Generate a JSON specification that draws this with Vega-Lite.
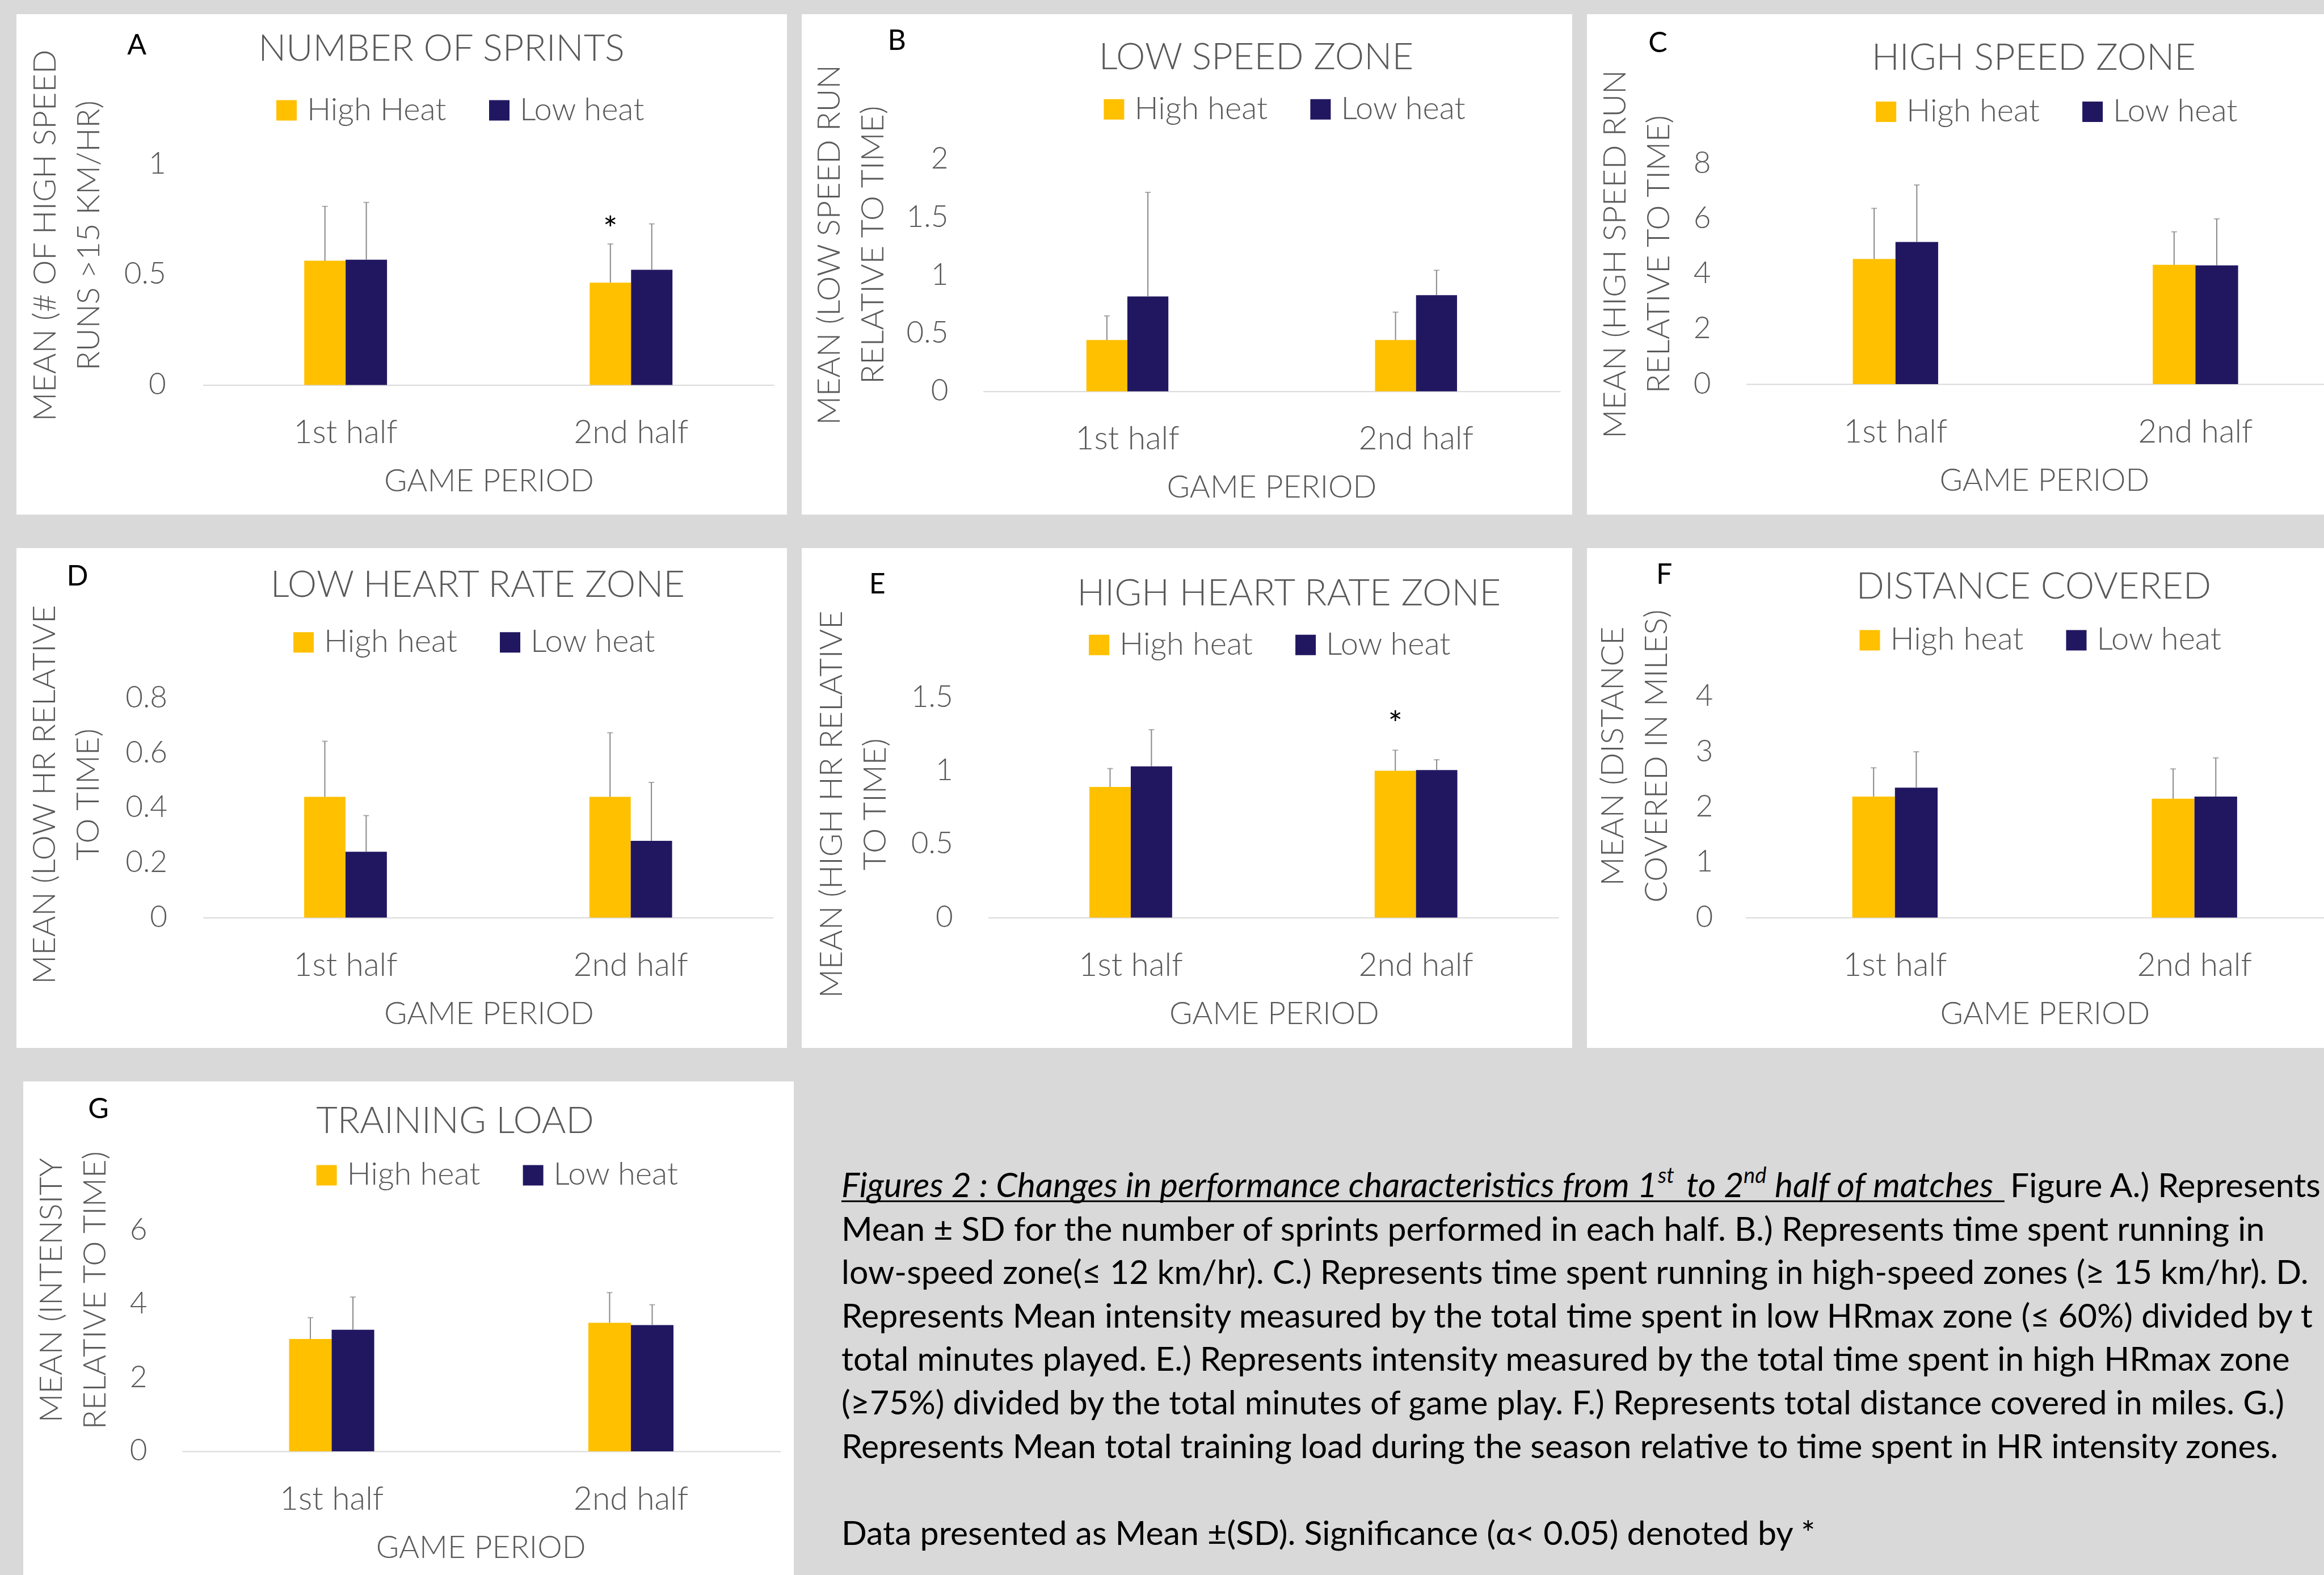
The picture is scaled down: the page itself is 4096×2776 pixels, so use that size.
{
"$schema": "https://vega.github.io/schema/vega-lite/v6.json",
"background": "#d9d9d9",
"padding": {"left": 29, "top": 25, "right": 0, "bottom": 0},
"spacing": 59,
"config": {
 "font": "Lato",
 "view": {"stroke": null},
 "axis": {"grid": false, "ticks": false, "tickSize": 0, "labelColor": "#595959", "titleColor": "#595959", "labelFontWeight": 300, "titleFontWeight": 300, "labelLimit": 1000, "titleLimit": 3000, "labelFontSize": 53, "titleFontSize": 56},
 "axisX": {"labelFontSize": 57, "titleFontSize": 55, "domain": true, "domainColor": "#d9d9d9", "domainWidth": 2, "labelPadding": 57, "labelAngle": 0, "titleBaseline": "middle"},
 "axisY": {"domain": false, "labelPadding": 0, "titleAngle": -90, "titleBaseline": "top", "titleAlign": "center", "titleLineHeight": 77},
 "legend": {"symbolType": "square", "symbolSize": 1296, "symbolStrokeWidth": 0, "labelFontSize": 56, "labelColor": "#595959", "labelFontWeight": 300, "labelLimit": 1000, "labelOffset": 8, "columnPadding": 65, "padding": 0, "rowPadding": 0}
},
"resolve": {"scale": {"color": "independent", "xOffset": "independent"}, "legend": {"color": "independent"}},
"vconcat": [
 {"hconcat": [
  {"width": 1358, "height": 882, "view": {"fill": "#ffffff", "stroke": null},
   "data": {"values": [
    {"period": "1st half", "group": "High heat", "mean": 0.562, "upper": 0.808},
    {"period": "1st half", "group": "Low heat", "mean": 0.567, "upper": 0.826},
    {"period": "2nd half", "group": "High heat", "mean": 0.463, "upper": 0.638},
    {"period": "2nd half", "group": "Low heat", "mean": 0.521, "upper": 0.729}]},
   "layer": [
    {"mark": {"type": "bar"},
     "encoding": {
      "x": {"field": "period", "type": "nominal", "scale": {"range": [328.6, 1334.8], "paddingInner": 0.71, "paddingOuter": 0.355}, "axis": {"title": "GAME PERIOD", "offset": -228.5, "titleX": 832.5, "titleY": 170}},
      "xOffset": {"field": "group", "type": "nominal", "scale": {"domain": ["High heat", "Low heat"]}},
      "y": {"field": "mean", "type": "quantitative", "scale": {"domain": [-0.5866, 1.6778], "nice": false, "zero": false}, "axis": {"values": [0, 0.5, 1], "format": "~g", "offset": -263.2, "title": ["MEAN (# OF HIGH SPEED", "RUNS >15 KM/HR)"], "titleX": -238.6, "titleY": 389.5}},
      "y2": {"datum": 0},
      "color": {"field": "group", "type": "nominal", "scale": {"domain": ["High heat", "Low heat"], "range": ["#ffc000", "#211761"]}, "legend": {"title": null, "orient": "none", "direction": "horizontal", "legendX": 448, "legendY": 141.6, "labelExpr": "datum.label == 'High heat' ? 'High Heat' : datum.label"}}}},
    {"mark": {"type": "rule", "color": "#898989", "strokeWidth": 2},
     "encoding": {
      "x": {"field": "period", "type": "nominal"},
      "xOffset": {"field": "group", "type": "nominal"},
      "y": {"field": "mean", "type": "quantitative"},
      "y2": {"field": "upper"}}},
    {"mark": {"type": "tick", "color": "#898989", "thickness": 2, "size": 10, "orient": "horizontal"},
     "encoding": {
      "x": {"field": "period", "type": "nominal"},
      "xOffset": {"field": "group", "type": "nominal"},
      "y": {"field": "upper", "type": "quantitative"}}},
    {"data": {"values": [{"period": "2nd half", "group": "High heat", "level": 0.742, "sym": "*"}]},
     "mark": {"type": "text", "fontSize": 60, "color": "#000000", "baseline": "middle", "dy": 17},
     "encoding": {
      "x": {"field": "period", "type": "nominal"},
      "xOffset": {"field": "group", "type": "nominal"},
      "y": {"field": "level", "type": "quantitative"},
      "text": {"field": "sym"}}},
    {"data": {"values": [{"label": "A"}]},
     "mark": {"type": "text", "fontSize": 50, "color": "#000000", "baseline": "middle", "dx": -368.1},
     "encoding": {"x": {"datum": "1st half", "type": "nominal"}, "y": {"datum": 1.534, "type": "quantitative"}, "text": {"field": "label"}}},
    {"data": {"values": [{"label": "NUMBER OF SPRINTS"}]},
     "mark": {"type": "text", "fontSize": 65, "color": "#595959", "fontWeight": 300, "baseline": "middle", "dx": 168.9},
     "encoding": {"x": {"datum": "1st half", "type": "nominal"}, "y": {"datum": 1.519, "type": "quantitative"}, "text": {"field": "label"}}}
   ]},
  {"width": 1358, "height": 882, "view": {"fill": "#ffffff", "stroke": null},
   "data": {"values": [
    {"period": "1st half", "group": "High heat", "mean": 0.443, "upper": 0.651},
    {"period": "1st half", "group": "Low heat", "mean": 0.818, "upper": 1.716},
    {"period": "2nd half", "group": "High heat", "mean": 0.443, "upper": 0.683},
    {"period": "2nd half", "group": "Low heat", "mean": 0.83, "upper": 1.044}]},
   "layer": [
    {"mark": {"type": "bar"},
     "encoding": {
      "x": {"field": "period", "type": "nominal", "scale": {"range": [319.6, 1337.1], "paddingInner": 0.716, "paddingOuter": 0.358}, "axis": {"title": "GAME PERIOD", "offset": -217.2, "titleX": 828, "titleY": 170}},
      "xOffset": {"field": "group", "type": "nominal", "scale": {"domain": ["High heat", "Low heat"]}},
      "y": {"field": "mean", "type": "quantitative", "scale": {"domain": [-1.0626, 3.2524], "nice": false, "zero": false}, "axis": {"values": [0, 0.5, 1, 1.5, 2], "format": "~g", "offset": -257.9, "title": ["MEAN (LOW SPEED RUN", "RELATIVE TO TIME)"], "titleX": -235.6, "titleY": 406.1}},
      "y2": {"datum": 0},
      "color": {"field": "group", "type": "nominal", "scale": {"domain": ["High heat", "Low heat"], "range": ["#ffc000", "#211761"]}, "legend": {"title": null, "orient": "none", "direction": "horizontal", "legendX": 522.4, "legendY": 139.7}}}},
    {"mark": {"type": "rule", "color": "#898989", "strokeWidth": 2},
     "encoding": {
      "x": {"field": "period", "type": "nominal"},
      "xOffset": {"field": "group", "type": "nominal"},
      "y": {"field": "mean", "type": "quantitative"},
      "y2": {"field": "upper"}}},
    {"mark": {"type": "tick", "color": "#898989", "thickness": 2, "size": 10, "orient": "horizontal"},
     "encoding": {
      "x": {"field": "period", "type": "nominal"},
      "xOffset": {"field": "group", "type": "nominal"},
      "y": {"field": "upper", "type": "quantitative"}}},
    {"data": {"values": [{"label": "B"}]},
     "mark": {"type": "text", "fontSize": 50, "color": "#000000", "baseline": "middle", "dx": -406.2},
     "encoding": {"x": {"datum": "1st half", "type": "nominal"}, "y": {"datum": 3.017, "type": "quantitative"}, "text": {"field": "label"}}},
    {"data": {"values": [{"label": "LOW SPEED ZONE"}]},
     "mark": {"type": "text", "fontSize": 65, "color": "#595959", "fontWeight": 300, "baseline": "middle", "dx": 227.0},
     "encoding": {"x": {"datum": "1st half", "type": "nominal"}, "y": {"datum": 2.875, "type": "quantitative"}, "text": {"field": "label"}}}
   ]},
  {"width": 1299, "height": 882, "view": {"fill": "#ffffff", "stroke": null},
   "data": {"values": [
    {"period": "1st half", "group": "High heat", "mean": 4.54, "upper": 6.38},
    {"period": "1st half", "group": "Low heat", "mean": 5.16, "upper": 7.23},
    {"period": "2nd half", "group": "High heat", "mean": 4.33, "upper": 5.53},
    {"period": "2nd half", "group": "Low heat", "mean": 4.31, "upper": 6.0}]},
   "layer": [
    {"mark": {"type": "bar"},
     "encoding": {
      "x": {"field": "period", "type": "nominal", "scale": {"range": [280.5, 1299], "paddingInner": 0.7155, "paddingOuter": 0.321, "align": 0.554}, "axis": {"title": "GAME PERIOD", "offset": -230, "titleX": 806, "titleY": 170}},
      "xOffset": {"field": "group", "type": "nominal", "scale": {"domain": ["High heat", "Low heat"]}},
      "y": {"field": "mean", "type": "quantitative", "scale": {"domain": [-4.737, 13.43], "nice": false, "zero": false}, "axis": {"values": [0, 2, 4, 6, 8], "format": "~g", "offset": -218.1, "title": ["MEAN (HIGH SPEED RUN", "RELATIVE TO TIME)"], "titleX": -194.3, "titleY": 422.6}},
      "y2": {"datum": 0},
      "color": {"field": "group", "type": "nominal", "scale": {"domain": ["High heat", "Low heat"], "range": ["#ffc000", "#211761"]}, "legend": {"title": null, "orient": "none", "direction": "horizontal", "legendX": 499.1, "legendY": 143.9}}}},
    {"mark": {"type": "rule", "color": "#898989", "strokeWidth": 2},
     "encoding": {
      "x": {"field": "period", "type": "nominal"},
      "xOffset": {"field": "group", "type": "nominal"},
      "y": {"field": "mean", "type": "quantitative"},
      "y2": {"field": "upper"}}},
    {"mark": {"type": "tick", "color": "#898989", "thickness": 2, "size": 10, "orient": "horizontal"},
     "encoding": {
      "x": {"field": "period", "type": "nominal"},
      "xOffset": {"field": "group", "type": "nominal"},
      "y": {"field": "upper", "type": "quantitative"}}},
    {"data": {"values": [{"label": "C"}]},
     "mark": {"type": "text", "fontSize": 50, "color": "#000000", "baseline": "middle", "dx": -418.9},
     "encoding": {"x": {"datum": "1st half", "type": "nominal"}, "y": {"datum": 12.35, "type": "quantitative"}, "text": {"field": "label"}}},
    {"data": {"values": [{"label": "HIGH SPEED ZONE"}]},
     "mark": {"type": "text", "fontSize": 65, "color": "#595959", "fontWeight": 300, "baseline": "middle", "dx": 243.6},
     "encoding": {"x": {"datum": "1st half", "type": "nominal"}, "y": {"datum": 11.83, "type": "quantitative"}, "text": {"field": "label"}}}
   ]}
 ], "spacing": 26, "bounds": "flush", "resolve": {"scale": {"color": "independent", "xOffset": "independent"}, "legend": {"color": "independent"}}},
 {"hconcat": [
  {"width": 1358, "height": 881, "view": {"fill": "#ffffff", "stroke": null},
   "data": {"values": [
    {"period": "1st half", "group": "High heat", "mean": 0.44, "upper": 0.643},
    {"period": "1st half", "group": "Low heat", "mean": 0.24, "upper": 0.372},
    {"period": "2nd half", "group": "High heat", "mean": 0.44, "upper": 0.674},
    {"period": "2nd half", "group": "Low heat", "mean": 0.28, "upper": 0.493}]},
   "layer": [
    {"mark": {"type": "bar"},
     "encoding": {
      "x": {"field": "period", "type": "nominal", "scale": {"range": [328.6, 1334.0], "paddingInner": 0.71, "paddingOuter": 0.355}, "axis": {"title": "GAME PERIOD", "offset": -229.8, "titleX": 832.5, "titleY": 170}},
      "xOffset": {"field": "group", "type": "nominal", "scale": {"domain": ["High heat", "Low heat"]}},
      "y": {"field": "mean", "type": "quantitative", "scale": {"domain": [-0.4756, 1.3477], "nice": false, "zero": false}, "axis": {"values": [0, 0.2, 0.4, 0.6, 0.8], "format": "~g", "offset": -265.5, "title": ["MEAN (LOW HR RELATIVE", "TO TIME)"], "titleX": -241.7, "titleY": 433.9}},
      "y2": {"datum": 0},
      "color": {"field": "group", "type": "nominal", "scale": {"domain": ["High heat", "Low heat"], "range": ["#ffc000", "#211761"]}, "legend": {"title": null, "orient": "none", "direction": "horizontal", "legendX": 478, "legendY": 138.2}}}},
    {"mark": {"type": "rule", "color": "#898989", "strokeWidth": 2},
     "encoding": {
      "x": {"field": "period", "type": "nominal"},
      "xOffset": {"field": "group", "type": "nominal"},
      "y": {"field": "mean", "type": "quantitative"},
      "y2": {"field": "upper"}}},
    {"mark": {"type": "tick", "color": "#898989", "thickness": 2, "size": 10, "orient": "horizontal"},
     "encoding": {
      "x": {"field": "period", "type": "nominal"},
      "xOffset": {"field": "group", "type": "nominal"},
      "y": {"field": "upper", "type": "quantitative"}}},
    {"data": {"values": [{"label": "D"}]},
     "mark": {"type": "text", "fontSize": 50, "color": "#000000", "baseline": "middle", "dx": -472.5},
     "encoding": {"x": {"datum": "1st half", "type": "nominal"}, "y": {"datum": 1.242, "type": "quantitative"}, "text": {"field": "label"}}},
    {"data": {"values": [{"label": "LOW HEART RATE ZONE"}]},
     "mark": {"type": "text", "fontSize": 65, "color": "#595959", "fontWeight": 300, "baseline": "middle", "dx": 232.9},
     "encoding": {"x": {"datum": "1st half", "type": "nominal"}, "y": {"datum": 1.211, "type": "quantitative"}, "text": {"field": "label"}}}
   ]},
  {"width": 1358, "height": 881, "view": {"fill": "#ffffff", "stroke": null},
   "data": {"values": [
    {"period": "1st half", "group": "High heat", "mean": 0.89, "upper": 1.015},
    {"period": "1st half", "group": "Low heat", "mean": 1.03, "upper": 1.28},
    {"period": "2nd half", "group": "High heat", "mean": 1.0, "upper": 1.14},
    {"period": "2nd half", "group": "Low heat", "mean": 1.005, "upper": 1.075}]},
   "layer": [
    {"mark": {"type": "bar"},
     "encoding": {
      "x": {"field": "period", "type": "nominal", "scale": {"range": [328.6, 1334.0], "paddingInner": 0.71, "paddingOuter": 0.355}, "axis": {"title": "GAME PERIOD", "offset": -229.8, "titleX": 832.5, "titleY": 170}},
      "xOffset": {"field": "group", "type": "nominal", "scale": {"domain": ["High heat", "Low heat"]}},
      "y": {"field": "mean", "type": "quantitative", "scale": {"domain": [-0.8883, 2.5172], "nice": false, "zero": false}, "axis": {"values": [0, 0.5, 1, 1.5], "format": "~g", "offset": -266.2, "title": ["MEAN (HIGH HR RELATIVE", "TO TIME)"], "titleX": -239.4, "titleY": 451.2}},
      "y2": {"datum": 0},
      "color": {"field": "group", "type": "nominal", "scale": {"domain": ["High heat", "Low heat"], "range": ["#ffc000", "#211761"]}, "legend": {"title": null, "orient": "none", "direction": "horizontal", "legendX": 496.1, "legendY": 142.7}}}},
    {"mark": {"type": "rule", "color": "#898989", "strokeWidth": 2},
     "encoding": {
      "x": {"field": "period", "type": "nominal"},
      "xOffset": {"field": "group", "type": "nominal"},
      "y": {"field": "mean", "type": "quantitative"},
      "y2": {"field": "upper"}}},
    {"mark": {"type": "tick", "color": "#898989", "thickness": 2, "size": 10, "orient": "horizontal"},
     "encoding": {
      "x": {"field": "period", "type": "nominal"},
      "xOffset": {"field": "group", "type": "nominal"},
      "y": {"field": "upper", "type": "quantitative"}}},
    {"data": {"values": [{"period": "2nd half", "group": "High heat", "level": 1.374, "sym": "*"}]},
     "mark": {"type": "text", "fontSize": 60, "color": "#000000", "baseline": "middle", "dy": 17},
     "encoding": {
      "x": {"field": "period", "type": "nominal"},
      "xOffset": {"field": "group", "type": "nominal"},
      "y": {"field": "level", "type": "quantitative"},
      "text": {"field": "sym"}}},
    {"data": {"values": [{"label": "E"}]},
     "mark": {"type": "text", "fontSize": 50, "color": "#000000", "baseline": "middle", "dx": -446.7},
     "encoding": {"x": {"datum": "1st half", "type": "nominal"}, "y": {"datum": 2.267, "type": "quantitative"}, "text": {"field": "label"}}},
    {"data": {"values": [{"label": "HIGH HEART RATE ZONE"}]},
     "mark": {"type": "text", "fontSize": 65, "color": "#595959", "fontWeight": 300, "baseline": "middle", "dx": 278.8},
     "encoding": {"x": {"datum": "1st half", "type": "nominal"}, "y": {"datum": 2.203, "type": "quantitative"}, "text": {"field": "label"}}}
   ]},
  {"width": 1299, "height": 881, "view": {"fill": "#ffffff", "stroke": null},
   "data": {"values": [
    {"period": "1st half", "group": "High heat", "mean": 2.19, "upper": 2.71},
    {"period": "1st half", "group": "Low heat", "mean": 2.35, "upper": 3.0},
    {"period": "2nd half", "group": "High heat", "mean": 2.15, "upper": 2.69},
    {"period": "2nd half", "group": "Low heat", "mean": 2.19, "upper": 2.89}]},
   "layer": [
    {"mark": {"type": "bar"},
     "encoding": {
      "x": {"field": "period", "type": "nominal", "scale": {"range": [279.7, 1299], "paddingInner": 0.7151, "paddingOuter": 0.323, "align": 0.551}, "axis": {"title": "GAME PERIOD", "offset": -229.8, "titleX": 806.9, "titleY": 170}},
      "xOffset": {"field": "group", "type": "nominal", "scale": {"domain": ["High heat", "Low heat"]}},
      "y": {"field": "mean", "type": "quantitative", "scale": {"domain": [-2.36, 6.687], "nice": false, "zero": false}, "axis": {"values": [0, 1, 2, 3, 4], "format": "~g", "offset": -221.8, "title": ["MEAN (DISTANCE", "COVERED IN MILES)"], "titleX": -202.5, "titleY": 366.2}},
      "y2": {"datum": 0},
      "color": {"field": "group", "type": "nominal", "scale": {"domain": ["High heat", "Low heat"], "range": ["#ffc000", "#211761"]}, "legend": {"title": null, "orient": "none", "direction": "horizontal", "legendX": 470.5, "legendY": 134.4}}}},
    {"mark": {"type": "rule", "color": "#898989", "strokeWidth": 2},
     "encoding": {
      "x": {"field": "period", "type": "nominal"},
      "xOffset": {"field": "group", "type": "nominal"},
      "y": {"field": "mean", "type": "quantitative"},
      "y2": {"field": "upper"}}},
    {"mark": {"type": "tick", "color": "#898989", "thickness": 2, "size": 10, "orient": "horizontal"},
     "encoding": {
      "x": {"field": "period", "type": "nominal"},
      "xOffset": {"field": "group", "type": "nominal"},
      "y": {"field": "upper", "type": "quantitative"}}},
    {"data": {"values": [{"label": "F"}]},
     "mark": {"type": "text", "fontSize": 50, "color": "#000000", "baseline": "middle", "dx": -406.7},
     "encoding": {"x": {"datum": "1st half", "type": "nominal"}, "y": {"datum": 6.193, "type": "quantitative"}, "text": {"field": "label"}}},
    {"data": {"values": [{"label": "DISTANCE COVERED"}]},
     "mark": {"type": "text", "fontSize": 65, "color": "#595959", "fontWeight": 300, "baseline": "middle", "dx": 244.5},
     "encoding": {"x": {"datum": "1st half", "type": "nominal"}, "y": {"datum": 5.977, "type": "quantitative"}, "text": {"field": "label"}}}
   ]}
 ], "spacing": 26, "bounds": "flush", "resolve": {"scale": {"color": "independent", "xOffset": "independent"}, "legend": {"color": "independent"}}},
 {"hconcat": [
  {"width": 1, "height": 1, "data": {"values": []}, "mark": {"type": "point", "opacity": 0}, "encoding": {}},
  {"hconcat": [
   {"width": 1358, "height": 870, "view": {"fill": "#ffffff", "stroke": null},
    "data": {"values": [
     {"period": "1st half", "group": "High heat", "mean": 3.05, "upper": 3.63},
     {"period": "1st half", "group": "Low heat", "mean": 3.3, "upper": 4.19},
     {"period": "2nd half", "group": "High heat", "mean": 3.49, "upper": 4.31},
     {"period": "2nd half", "group": "Low heat", "mean": 3.43, "upper": 3.98}]},
    "layer": [
     {"mark": {"type": "bar"},
      "encoding": {
       "x": {"field": "period", "type": "nominal", "scale": {"range": [279.7, 1334.8], "paddingInner": 0.7155, "paddingOuter": 0.358}, "axis": {"title": "GAME PERIOD", "offset": -218, "titleX": 806.1, "titleY": 170}},
       "xOffset": {"field": "group", "type": "nominal", "scale": {"domain": ["High heat", "Low heat"]}},
       "y": {"field": "mean", "type": "quantitative", "scale": {"domain": [-3.359, 10.046], "nice": false, "zero": false}, "axis": {"values": [0, 2, 4, 6], "format": "~g", "offset": -218.1, "title": ["MEAN (INTENSITY", "RELATIVE TO TIME)"], "titleX": -195, "titleY": 367.7}},
       "y2": {"datum": 0},
       "color": {"field": "group", "type": "nominal", "scale": {"domain": ["High heat", "Low heat"], "range": ["#ffc000", "#211761"]}, "legend": {"title": null, "orient": "none", "direction": "horizontal", "legendX": 506.6, "legendY": 137.4}}}},
     {"mark": {"type": "rule", "color": "#898989", "strokeWidth": 2},
      "encoding": {
       "x": {"field": "period", "type": "nominal"},
       "xOffset": {"field": "group", "type": "nominal"},
       "y": {"field": "mean", "type": "quantitative"},
       "y2": {"field": "upper"}}},
     {"mark": {"type": "tick", "color": "#898989", "thickness": 2, "size": 10, "orient": "horizontal"},
      "encoding": {
       "x": {"field": "period", "type": "nominal"},
       "xOffset": {"field": "group", "type": "nominal"},
       "y": {"field": "upper", "type": "quantitative"}}},
     {"data": {"values": [{"label": "G"}]},
      "mark": {"type": "text", "fontSize": 50, "color": "#000000", "baseline": "middle", "dx": -411.1},
      "encoding": {"x": {"datum": "1st half", "type": "nominal"}, "y": {"datum": 9.282, "type": "quantitative"}, "text": {"field": "label"}}},
     {"data": {"values": [{"label": "TRAINING LOAD"}]},
      "mark": {"type": "text", "fontSize": 65, "color": "#595959", "fontWeight": 300, "baseline": "middle", "dx": 217.5},
      "encoding": {"x": {"datum": "1st half", "type": "nominal"}, "y": {"datum": 8.946, "type": "quantitative"}, "text": {"field": "label"}}}
    ]},
   {"width": 2608, "height": 870,
    "layer": [
     {"data": {"values": [
       {"line": 2, "text": "Mean ± SD for the number of sprints performed in each half. B.) Represents time spent running in"},
       {"line": 3, "text": "low-speed zone(≤ 12 km/hr). C.) Represents time spent running in high-speed zones (≥ 15 km/hr).  D.)"},
       {"line": 4, "text": "Represents Mean intensity measured by the total time spent in low HRmax zone (≤ 60%) divided by the"},
       {"line": 5, "text": "total minutes played. E.) Represents intensity measured by the total time spent in high HRmax  zone"},
       {"line": 6, "text": "(≥75%) divided by the total minutes of game play. F.) Represents total distance covered in miles. G.)"},
       {"line": 7, "text": "Represents Mean  total training load during the season relative to time spent in HR intensity zones."},
       {"line": 9, "text": "Data presented as Mean ±(SD). Significance (α< 0.05) denoted by *"}]},
      "mark": {"type": "text", "align": "left", "baseline": "middle", "fontSize": 59, "color": "#000000", "limit": 2606, "ellipsis": "\u200b"},
      "encoding": {
       "x": {"datum": 0, "type": "quantitative", "scale": {"domain": [0, 1]}, "axis": null},
       "y": {"field": "line", "type": "quantitative", "scale": {"domain": [-1.428, 9.93], "reverse": true, "nice": false, "zero": false}, "axis": null},
       "text": {"field": "text"}}},
     {"data": {"values": [{"line": 1, "text": "Figures 2 : Changes in performance characteristics from 1"}]},
      "mark": {"type": "text", "align": "left", "baseline": "middle", "fontSize": 60.5, "fontStyle": "italic", "color": "#000000"},
      "encoding": {"x": {"datum": 0, "type": "quantitative", "axis": null}, "y": {"field": "line", "type": "quantitative", "axis": null}, "text": {"field": "text"}}},
     {"data": {"values": [{"line": 1, "text": "st"}]},
      "mark": {"type": "text", "align": "left", "baseline": "middle", "fontSize": 38, "fontStyle": "italic", "color": "#000000", "dx": 1439, "dy": -18},
      "encoding": {"x": {"datum": 0, "type": "quantitative", "axis": null}, "y": {"field": "line", "type": "quantitative", "axis": null}, "text": {"field": "text"}}},
     {"data": {"values": [{"line": 1, "text": "to 2"}]},
      "mark": {"type": "text", "align": "left", "baseline": "middle", "fontSize": 60.5, "fontStyle": "italic", "color": "#000000", "dx": 1489},
      "encoding": {"x": {"datum": 0, "type": "quantitative", "axis": null}, "y": {"field": "line", "type": "quantitative", "axis": null}, "text": {"field": "text"}}},
     {"data": {"values": [{"line": 1, "text": "nd"}]},
      "mark": {"type": "text", "align": "left", "baseline": "middle", "fontSize": 38, "fontStyle": "italic", "color": "#000000", "dx": 1590, "dy": -18},
      "encoding": {"x": {"datum": 0, "type": "quantitative", "axis": null}, "y": {"field": "line", "type": "quantitative", "axis": null}, "text": {"field": "text"}}},
     {"data": {"values": [{"line": 1, "text": "half of matches"}]},
      "mark": {"type": "text", "align": "left", "baseline": "middle", "fontSize": 60.5, "fontStyle": "italic", "color": "#000000", "dx": 1645},
      "encoding": {"x": {"datum": 0, "type": "quantitative", "axis": null}, "y": {"field": "line", "type": "quantitative", "axis": null}, "text": {"field": "text"}}},
     {"data": {"values": [{"line": 1, "text": "Figure A.) Represents"}]},
      "mark": {"type": "text", "align": "left", "baseline": "middle", "fontSize": 59, "color": "#000000", "dx": 2060},
      "encoding": {"x": {"datum": 0, "type": "quantitative", "axis": null}, "y": {"field": "line", "type": "quantitative", "axis": null}, "text": {"field": "text"}}},
     {"data": {"values": [{"part": "caption heading underline"}]},
      "mark": {"type": "rule", "color": "#000000", "strokeWidth": 3},
      "encoding": {"x": {"datum": 0, "type": "quantitative", "axis": null}, "x2": {"datum": 0.786}, "y": {"datum": 1.33, "type": "quantitative", "axis": null}}}
    ]}
  ], "spacing": 84, "bounds": "flush", "resolve": {"scale": {"color": "independent", "xOffset": "independent"}, "legend": {"color": "independent"}}}
 ], "spacing": 11, "resolve": {"scale": {"color": "independent", "xOffset": "independent"}, "legend": {"color": "independent"}}}
]
}
